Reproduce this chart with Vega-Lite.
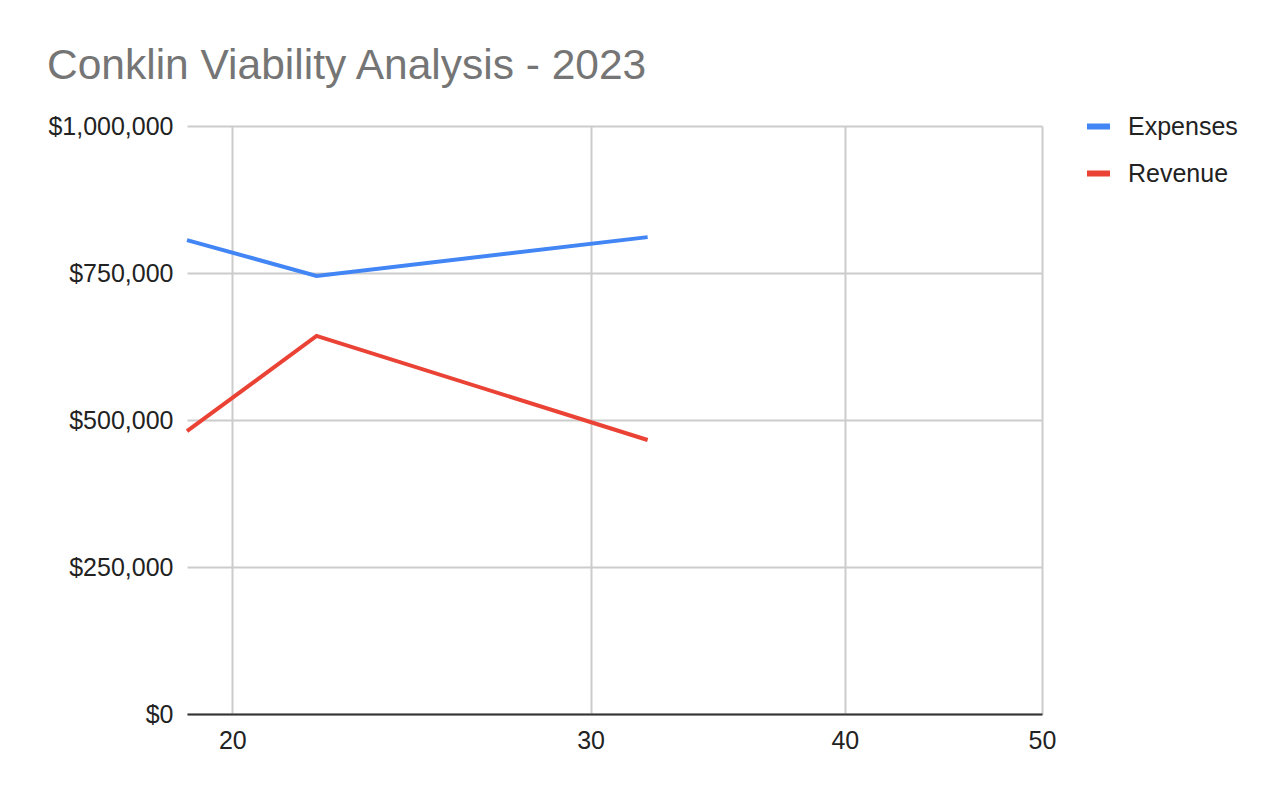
{
  "$schema": "https://vega.github.io/schema/vega-lite/v6.json",
  "autosize": {"type": "none"},
  "padding": {"left": 187, "top": 126, "right": 236, "bottom": 76},
  "width": 855,
  "height": 588,
  "background": "white",
  "title": {
    "text": "Conklin Viability Analysis - 2023",
    "anchor": "start",
    "frame": "group",
    "dx": -140,
    "offset": -9,
    "baseline": "alphabetic",
    "font": "Liberation Sans",
    "fontSize": 42.5,
    "fontWeight": "normal",
    "color": "#757575"
  },
  "data": {
    "values": [
      {"x": 19, "series": "Expenses", "value": 806000},
      {"x": 22, "series": "Expenses", "value": 745000},
      {"x": 32, "series": "Expenses", "value": 811000},
      {"x": 19, "series": "Revenue", "value": 481000},
      {"x": 22, "series": "Revenue", "value": 643000},
      {"x": 32, "series": "Revenue", "value": 466000}
    ]
  },
  "mark": {"type": "line", "strokeWidth": 4},
  "encoding": {
    "x": {
      "field": "x",
      "type": "quantitative",
      "scale": {"type": "log", "domain": [19, 50], "nice": false, "zero": false},
      "axis": {
        "title": null,
        "values": [20, 30, 40, 50],
        "format": "d",
        "ticks": false,
        "labelFlush": false,
        "labelPadding": 14,
        "domainColor": "#333333",
        "domainWidth": 2,
        "gridColor": "#cccccc",
        "gridWidth": 2,
        "labelFont": "Liberation Sans",
        "labelFontSize": 25,
        "labelColor": "#222222"
      }
    },
    "y": {
      "field": "value",
      "type": "quantitative",
      "scale": {"domain": [0, 1000000], "nice": false},
      "axis": {
        "title": null,
        "values": [0, 250000, 500000, 750000, 1000000],
        "format": "$,.0f",
        "ticks": false,
        "domain": false,
        "labelPadding": 14,
        "gridColor": "#cccccc",
        "gridWidth": 2,
        "labelFont": "Liberation Sans",
        "labelFontSize": 25,
        "labelColor": "#222222"
      }
    },
    "color": {
      "field": "series",
      "type": "nominal",
      "scale": {"domain": ["Expenses", "Revenue"], "range": ["#4285F4", "#EA4335"]},
      "legend": {
        "title": null,
        "orient": "none",
        "legendX": 897,
        "legendY": -14,
        "symbolType": "stroke",
        "symbolSize": 529,
        "symbolStrokeWidth": 6,
        "labelOffset": 15,
        "rowPadding": 19,
        "labelFont": "Liberation Sans",
        "labelFontSize": 25,
        "labelColor": "#222222"
      }
    }
  },
  "config": {
    "view": {"stroke": null}
  }
}
